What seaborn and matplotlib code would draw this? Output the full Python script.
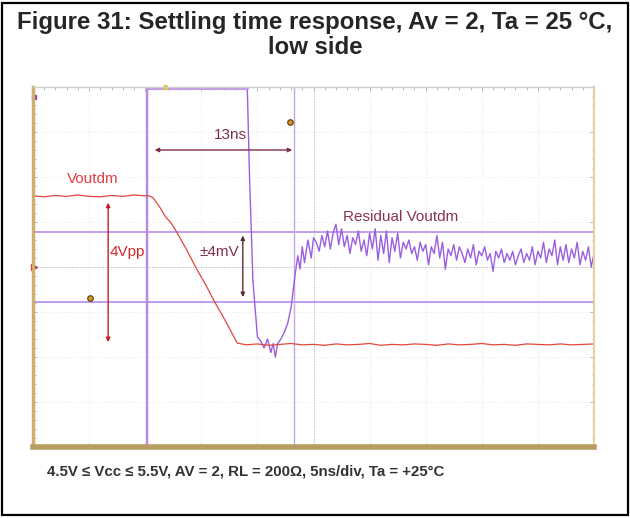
import numpy as np
import pandas as pd
import matplotlib.pyplot as plt
import seaborn as sns
from matplotlib.patches import Rectangle

sns.set_theme(style="white")
plt.rcParams['font.family'] = ['Liberation Sans', 'DejaVu Sans']

# time in ns (5 ns/div), amplitude in screen divisions
vout_t = [0, 1, 2, 3, 4, 5, 6, 7, 8, 9, 10, 10.25, 10.7, 11.3, 11.8, 12.3, 12.8,
          13.7, 14.6, 15.4, 16.2, 17.2, 18.2, 19, 20, 21, 22, 23, 24, 25, 26, 27,
          28, 29, 30, 31, 32, 33, 34, 35, 36, 37, 38, 39, 40, 41, 42, 43, 44, 45,
          46, 47, 48, 49, 50]
vout_v = [1.58, 1.56, 1.59, 1.57, 1.60, 1.57, 1.56, 1.59, 1.57, 1.60, 1.58, 1.59,
          1.54, 1.33, 1.12, 0.98, 0.78, 0.38, -0.05, -0.40, -0.78, -1.22, -1.69,
          -1.73, -1.71, -1.74, -1.72, -1.70, -1.73, -1.72, -1.74, -1.71, -1.73,
          -1.72, -1.70, -1.74, -1.72, -1.73, -1.71, -1.72, -1.74, -1.71, -1.73,
          -1.72, -1.70, -1.73, -1.72, -1.74, -1.71, -1.72, -1.73, -1.71, -1.73,
          -1.72, -1.71]

# residual trace: first clipped off screen, then the settling part
res_head_t = [0, 10.2, 10.2, 19.1, 19.3, 19.6, 20.0, 20.3, 20.6, 20.9, 21.2, 21.4,
              21.6, 21.8, 22.1, 22.4, 22.7, 23.0, 23.2, 23.4, 23.6, 23.8, 24.0,
              24.2, 24.5, 24.8, 25.0]
res_head_v = [-4.6, -4.6, 3.97, 3.97, 2.0, -0.3, -1.55, -1.65, -1.80, -1.60, -1.90,
              -1.70, -2.00, -1.70, -1.60, -1.45, -1.25, -0.90, -0.50, -0.10, 0.25,
              -0.05, 0.45, 0.10, 0.60, 0.20, 0.65]
res_tail_v = [0.55, 0.35, 0.70, 0.45, 0.80, 0.40, 0.75, 0.95, 0.50, 0.85,
              0.45, 0.70, 0.30, 0.65, 0.50, 0.80, 0.35, 0.60, 0.25, 0.75,
              0.40, 0.85, 0.15, 0.70, 0.30, 0.80, 0.10, 0.65, 0.35, 0.75,
              0.20, 0.55, 0.40, 0.60, 0.30, 0.45, 0.15, 0.55, 0.35, 0.50,
              0.05, 0.45, 0.30, 0.70, 0.20, 0.55, -0.05, 0.40, 0.25, 0.50,
              0.15, 0.45, 0.30, 0.10, 0.40, 0.20, 0.50, 0.05, 0.35, 0.25,
              0.45, 0.15, 0.30, -0.10, 0.35, 0.20, 0.40, 0.10, 0.30, 0.15,
              0.35, 0.05, 0.25, 0.40, 0.10, 0.30, 0.15, 0.45, 0.05, 0.35,
              0.20, 0.55, 0.10, 0.40, 0.25, 0.60, 0.05, 0.45, 0.15, 0.50,
              0.10, 0.40, 0.20, 0.55, 0.05, 0.35, 0.15, 0.45, 0.00, 0.30]
res_tail_t = [25.25 + 0.25 * i for i in range(len(res_tail_v))]

band = 0.78        # +/-4 mV cursors
cursor_t = [10.2, 23.3]

vout = pd.DataFrame({"t": vout_t, "v": vout_v})
resid = pd.DataFrame({"t": res_head_t + res_tail_t, "v": res_head_v + res_tail_v})

fig = plt.figure(figsize=(6.3, 5.18), dpi=100)
fig.patch.set_facecolor("white")
fig.add_artist(Rectangle((1.5 / 630, 3 / 518), 626 / 630, 512 / 518,
                         transform=fig.transFigure, fill=False, ec="black", lw=1.6))

fig.text(0.5, 1 - 22 / 518, "Figure 31: Settling time response, Av = 2, Ta = 25 °C,",
         ha="center", va="center", fontsize=17.3, fontweight="bold")
fig.text(0.5, 1 - 47 / 518, "low side", ha="center", va="center",
         fontsize=17.3, fontweight="bold")
fig.text(47 / 630, 1 - 471 / 518,
         "4.5V ≤ Vcc ≤ 5.5V, AV = 2, RL = 200Ω, 5ns/div, Ta = +25°C",
         ha="left", va="center", fontsize=10.8, fontweight="bold", color="#333333")

ax = fig.add_axes([33 / 630, 71 / 518, 561 / 630, 360 / 518])
ax.set_xlim(0, 50)
ax.set_ylim(-4, 4)
ax.set_xticks(np.arange(0, 51, 5))
ax.set_yticks(np.arange(-4, 5, 1))
ax.set_xticks(np.arange(0, 50.1, 1), minor=True)
ax.set_yticks(np.arange(-4, 4.01, 0.2), minor=True)
ax.set_xticklabels([])
ax.set_yticklabels([])
ax.tick_params(which="both", direction="in", top=True, right=True, bottom=True,
               left=True, colors="#b0b0b0", length=3, width=0.6)
ax.tick_params(which="minor", length=1.8)
ax.grid(True, which="major", color="#e6e6e6", lw=0.6, ls=":")

# crosshair
ax.axhline(0, color="#b5b5b5", lw=0.7, ls=":")
ax.axvline(25, color="#b5b5b5", lw=0.7, ls=":")

for side, col, w in [("left", "#cfae6e", 2.5), ("bottom", "#b89c60", 4),
                     ("right", "#ecd09a", 1.5), ("top", "#d0d0c8", 1.0)]:
    ax.spines[side].set_color(col)
    ax.spines[side].set_linewidth(w)

# cursors
for y in (band, -band):
    ax.axhline(y, color="#b98ae8", lw=1.2)
ax.axvline(cursor_t[1], color="#c3a6ea", lw=1.0)

sns.lineplot(data=resid, x="t", y="v", ax=ax, sort=False, estimator=None,
             color="#9a5ee0", lw=1.0)
ax.plot([cursor_t[0], cursor_t[0]], [-4, 4], color="#b58ae8", lw=1.6)
ax.plot([cursor_t[0], 19.1], [3.97, 3.97], color="#c09ae8", lw=2.2)
sns.lineplot(data=vout, x="t", y="v", ax=ax, sort=False, estimator=None,
             color="#e2473c", lw=0.9)
ax.set_xlabel("")
ax.set_ylabel("")

maroon = "#7e3048"
fs = 11
ax.annotate("", xy=(10.6, 2.6), xytext=(23.35, 2.6),
            arrowprops=dict(arrowstyle="<|-|>", color=maroon, lw=1.0, mutation_scale=6))
ax.text(17.6, 2.93, "13ns", color=maroon, fontsize=fs, ha="center", va="center")

ax.annotate("", xy=(6.7, 1.49), xytext=(6.7, -1.73),
            arrowprops=dict(arrowstyle="<|-|>", color="#c42020", lw=1.0, mutation_scale=6))
ax.text(6.85, 0.33, "4Vpp", color="#d42a2a", fontsize=fs, ha="left", va="center")
ax.text(3.0, 1.96, "Voutdm", color="#e04040", fontsize=fs, ha="left", va="center")

ax.annotate("", xy=(18.7, 0.76), xytext=(18.7, -0.73),
            arrowprops=dict(arrowstyle="<|-|>", color="#5e2a36", lw=1.0, mutation_scale=6))
ax.text(18.4, 0.33, "±4mV", color=maroon, fontsize=fs, ha="right", va="center")
ax.text(27.6, 1.11, "Residual Voutdm", color="#8a3352", fontsize=fs, ha="left", va="center")

# markers
ax.plot([22.9, 5.08], [3.22, -0.69], "o", ms=4, color="#d29a1c", mec="#5a3a08", mew=0.8)
ax.plot([11.8], [4.0], "o", ms=3, color="#e8c040", clip_on=False)
ax.plot([0.1], [0], ">", ms=5, color="#d03030", clip_on=False)
ax.plot([0.05], [3.78], "s", ms=3, color="#9040b0", clip_on=False)

fig.savefig("out.png", dpi=100)
